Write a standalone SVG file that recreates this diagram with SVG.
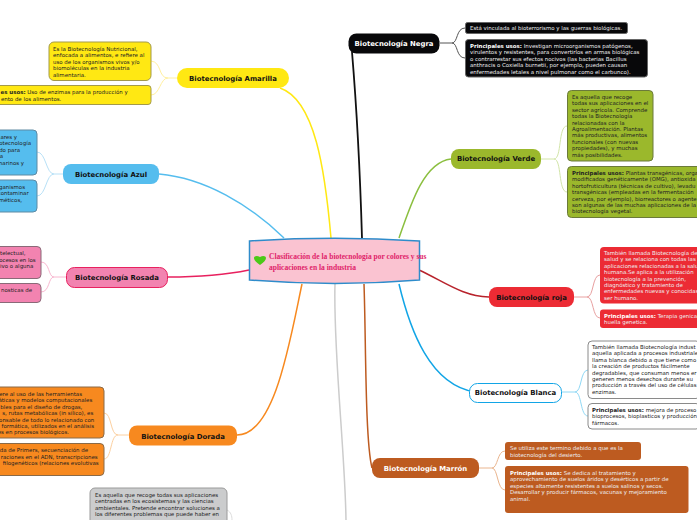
<svg xmlns="http://www.w3.org/2000/svg" width="697" height="520" viewBox="0 0 697 520">
<style>
text{font-family:"DejaVu Sans",Verdana,sans-serif}
.t{font-size:5.45px;fill:#222}
.e{text-anchor:end}
.l{fill:#eee}
.b{font-weight:bold}
.n{font-size:6.9px;font-weight:bold;text-anchor:middle;fill:#111}
.c{fill:none;stroke-width:1.5}
.f{fill:none;stroke-width:1}
.box{stroke-width:1}
.m{font-family:"Liberation Serif",serif;font-size:7.5px;font-weight:bold;fill:#e0246a}
</style>
<rect width="697" height="520" fill="#fff"/>
<g id="connectors">
<path class="c" style="stroke-width:1.8" stroke="#111" d="M362 238C360 170 356 100 352 52"/>
<path class="c" stroke="#ffe813" d="M331 238C325 170 315 100 280 88"/>
<path class="c" stroke="#55bdee" d="M284 238C250 205 205 178 159 174"/>
<path class="c" stroke="#e8215f" d="M249 270C220 276 195 277 168 277"/>
<path class="c" stroke="#f7891f" d="M302 284C290 340 275 435 237 435"/>
<path class="c" stroke="#ccc" d="M335 284C333 350 345 450 346 520"/>
<path class="c" stroke="#bd5b20" d="M364 284C366 340 365 440 372 468"/>
<path class="c" stroke="#12a5e6" d="M399 284C410 330 430 385 475 392"/>
<path class="c" stroke="#b8232c" d="M419 270C445 282 462 296 489 297"/>
<path class="c" stroke="#8bbf3f" d="M399 238C412 200 425 162 451 159"/>
<g class="f">
<path stroke="#fff0a0" d="M177 78H168C158 78 162 62 151 61M168 78C160 78 160 95 151 95"/>
<path stroke="#b8e1f7" d="M63 174H54C46 174 46 152 37 152M54 174C46 174 46 196 37 196"/>
<path stroke="#f8b8d0" d="M66 277H54C48 277 50 262 41 262M54 277C48 277 50 292 41 292"/>
<path stroke="#fcd0a0" d="M129 435H118C110 435 112 413 104 413M118 435C110 435 112 459 104 459"/>
<path stroke="#ddd" d="M227 510C231 512 232 516 232 520"/>
<path stroke="#555" d="M440 43H452C458 43 456 28 465 28M452 43C458 43 456 58 465 58"/>
<path stroke="#d2e5a8" d="M541 159H554C562 159 558 126 567 126M554 159C562 159 558 192 567 192"/>
<path stroke="#e8a0a0" d="M574 297H587C594 297 592 275 600 275M587 297C594 297 592 318 600 318"/>
<path stroke="#8fd8f5" d="M562 392H575C582 392 580 370 588 370M575 392C582 392 580 416 588 416"/>
<path stroke="#eab58e" d="M479 468H492C498 468 497 451 505 451M492 468C498 468 497 490 505 490"/>
</g>
</g>
<g id="amarilla">
<rect class="box" x="49" y="42" width="102" height="38.500" rx="5" fill="#ffe813" stroke="#a39a4a"/>
<rect class="box" x="-5" y="85.500" width="156" height="19" rx="3" fill="#ffe813" stroke="#a39a4a"/>
<rect x="177" y="68" width="112" height="20" rx="10" fill="#ffe813"/>
<text class="n" x="233" y="80.500">Biotecnología Amarilla</text>
<text class="t" x="53" y="51">Es la Biotecnología Nutricional,</text>
<text class="t" x="53" y="57.400">enfocada a alimentos, e refiere al</text>
<text class="t" x="53" y="63.800">uso de los organismos vivos y/o</text>
<text class="t" x="53" y="70.200">biomoléculas en la industria</text>
<text class="t" x="53" y="76.600">alimentaria.</text>
<text class="t e" x="127.700" y="94"><tspan class="b">es usos:</tspan> Uso de enzimas para la producción y</text>
<text class="t e" x="61.300" y="101">ento de los alimentos.</text>
</g>
<g id="azul">
<rect class="box" x="-5" y="130" width="42" height="45" rx="4" fill="#55bdee" stroke="#5f8aa3"/>
<rect class="box" x="-5" y="180" width="42" height="32" rx="4" fill="#55bdee" stroke="#5f8aa3"/>
<rect x="63" y="164" width="96" height="20" rx="8" fill="#55bdee"/>
<text class="n" x="111" y="176.500">Biotecnología Azul</text>
<text class="t e" x="17" y="139">ares y</text>
<text class="t e" x="31" y="145.400">otecnología</text>
<text class="t e" x="20" y="151.800">do para</text>
<text class="t e" x="3" y="158.200">a</text>
<text class="t e" x="24" y="164.600">marinos y</text>
<text class="t e" x="25" y="189">ganismos</text>
<text class="t e" x="28.700" y="195.400">contaminar</text>
<text class="t e" x="22" y="201.800">méticos,</text>
</g>
<g id="rosada">
<rect class="box" x="-5" y="246.500" width="46" height="32" rx="4" fill="#f283b0" stroke="#8a6a78"/>
<rect class="box" x="-5" y="283.500" width="46" height="19" rx="4" fill="#f283b0" stroke="#8a6a78"/>
<rect x="66.500" y="267.500" width="101" height="20" rx="8" fill="#f283b0" stroke="#e8215f"/>
<text class="n" x="117" y="280">Biotecnología Rosada</text>
<text class="t e" x="25.500" y="255.300">ntelectual,</text>
<text class="t e" x="35.700" y="262">ocesos en los</text>
<text class="t e" x="33.300" y="268.200">ivo o alguna</text>
<text class="t e" x="32" y="292">nosticas de</text>
</g>
<g id="dorada">
<rect class="box" x="-5" y="387" width="109" height="51" rx="4" fill="#f7891f" stroke="#8a6a48"/>
<rect class="box" x="-5" y="443.500" width="109" height="32" rx="4" fill="#f7891f" stroke="#8a6a48"/>
<rect x="129" y="425.500" width="108" height="20" rx="8" fill="#f7891f"/>
<text class="n" x="183" y="438.500">Biotecnología Dorada</text>
<text class="t e" x="82" y="396">ere al uso de las herramientas</text>
<text class="t e" x="92.300" y="402.400">máticas y modelos computacionales</text>
<text class="t e" x="82.300" y="408.800">bles para el diseño de drogas,</text>
<text class="t e" x="93.300" y="415.200">s, rutas metabólicas (in silico), es</text>
<text class="t e" x="94.300" y="421.600">onsable de todo lo relacionado con</text>
<text class="t e" x="94" y="428">formática, utilizados en el análisis</text>
<text class="t e" x="69" y="434.400">es en procesos biológicos.</text>
<text class="t e" x="88" y="452">da de Primers, secuenciación de</text>
<text class="t e" x="97.700" y="459">raciones en el ADN, transcripciones</text>
<text class="t e" x="98.700" y="465.400">filogenéticos (relaciones evolutivas</text>
</g>
<g id="gris">
<rect class="box" x="90" y="488" width="137" height="40" rx="5" fill="#cbcccd" stroke="#9a9a9a"/>
<text class="t" x="95" y="497">Es aquella que recoge todas sus aplicaciones</text>
<text class="t" x="95" y="503.400">centradas en los ecosistemas y las ciencias</text>
<text class="t" x="95" y="509.800">ambientales. Pretende encontrar soluciones a</text>
<text class="t" x="95" y="516.200">los diferentes problemas que puede haber en</text>
</g>
<g id="negra">
<rect x="465.500" y="22.500" width="162" height="11" rx="2" fill="#08080a" stroke="#666"/>
<rect x="465.500" y="39.500" width="182" height="37.500" rx="3" fill="#08080a" stroke="#666"/>
<rect x="348.500" y="33.500" width="91" height="20" rx="8" fill="#08080a"/>
<text class="n" x="394" y="46" style="fill:#fff">Biotecnología Negra</text>
<text class="t l" x="470" y="30">Está vinculada al bioterrorismo y las guerras biológicas.</text>
<text class="t l" x="470" y="48"><tspan class="b" style="fill:#fff">Principales usos:</tspan> Investigan microorganismos patógenos,</text>
<text class="t l" x="470" y="54.400">virulentos y resistentes, para convertirlos en armas biológicas</text>
<text class="t l" x="470" y="60.800">o contrarrestar sus efectos nocivos (las bacterias Bacillus</text>
<text class="t l" x="470" y="67.200">anthracis o Coxiella burnetii, por ejemplo, pueden causan</text>
<text class="t l" x="470" y="73.600">enfermedades letales a nivel pulmonar como el carbunco).</text>
</g>
<g id="verde">
<rect class="box" x="567.500" y="90.500" width="85.500" height="70.500" rx="4" fill="#9bb82c" stroke="#6b7a3a"/>
<rect class="box" x="567.500" y="166.500" width="135" height="51" rx="4" fill="#9bb82c" stroke="#6b7a3a"/>
<rect x="451" y="149" width="90" height="20" rx="8" fill="#9bb82c"/>
<text class="n" x="496" y="161">Biotecnología Verde</text>
<text class="t" x="572" y="99">Es aquella que recoge</text>
<text class="t" x="572" y="105.400">todas sus aplicaciones en el</text>
<text class="t" x="572" y="111.800">sector agrícola. Comprende</text>
<text class="t" x="572" y="118.200">todas la Biotecnología</text>
<text class="t" x="572" y="124.600">relacionadas con la</text>
<text class="t" x="572" y="131">Agroalimentación. Plantas</text>
<text class="t" x="572" y="137.400">más productivas, alimentos</text>
<text class="t" x="572" y="143.800">funcionales (con nuevas</text>
<text class="t" x="572" y="150.200">propiedades), y muchas</text>
<text class="t" x="572" y="156.600">más posibilidades.</text>
<text class="t" x="572" y="175"><tspan class="b">Principales usos:</tspan> Plantas transgénicas, orga</text>
<text class="t" x="572" y="181.400">modificados genéticamente (OMG), antioxida</text>
<text class="t" x="572" y="187.800">hortofruticultura (técnicas de cultivo), levadu</text>
<text class="t" x="572" y="194.200">transgénicas (empleadas en la fermentación</text>
<text class="t" x="572" y="200.600">cerveza, por ejemplo), biorreactores o agente</text>
<text class="t" x="572" y="207">son algunas de las muchas aplicaciones de la</text>
<text class="t" x="572" y="213.400">biotecnología vegetal.</text>
</g>
<g id="roja">
<rect x="600" y="247" width="102" height="56.500" rx="4" fill="#ec2b34"/>
<rect x="600" y="309.500" width="102" height="18.500" rx="3" fill="#ec2b34"/>
<rect x="489" y="287" width="85" height="20" rx="8" fill="#ec2b34"/>
<text class="n" x="531.500" y="299.500">Biotecnología roja</text>
<text class="t l" x="604" y="255">También llamada Biotecnología de</text>
<text class="t l" x="604" y="261.400">salud y se relaciona con todas las</text>
<text class="t l" x="604" y="267.800">aplicaciones relacionadas a la salu</text>
<text class="t l" x="604" y="274.200">humana.Se aplica a la utilización</text>
<text class="t l" x="604" y="280.600">biotecnología a la prevención,</text>
<text class="t l" x="604" y="287">diagnóstico y tratamiento de</text>
<text class="t l" x="604" y="293.400">enfermedades nuevas y conocidas</text>
<text class="t l" x="604" y="299.800">ser humano.</text>
<text class="t l" x="604" y="318"><tspan class="b" style="fill:#fff">Principales usos:</tspan> Terapia genica</text>
<text class="t l" x="604" y="324.400">huella genetica.</text>
</g>
<g id="blanca">
<rect class="box" x="588" y="341" width="112" height="57.500" rx="4" fill="#fff" stroke="#8a8a8a"/>
<rect class="box" x="588" y="403.500" width="112" height="25.500" rx="4" fill="#fff" stroke="#8a8a8a"/>
<rect x="469.500" y="383.500" width="92" height="19" rx="8" fill="#fff" stroke="#12a5e6"/>
<text class="n" x="515.500" y="395">Biotecnología Blanca</text>
<text class="t" x="592" y="349">También llamada Biotecnología indust</text>
<text class="t" x="592" y="355.400">aquella aplicada a procesos industriale</text>
<text class="t" x="592" y="361.800">llama blanca debido a que tiene como</text>
<text class="t" x="592" y="368.200">la creación de productos fácilmente</text>
<text class="t" x="592" y="374.600">degradables, que consuman menos er</text>
<text class="t" x="592" y="381">generen menos desechos durante su</text>
<text class="t" x="592" y="387.400">producción a través del uso de células</text>
<text class="t" x="592" y="393.800">enzimas.</text>
<text class="t" x="592" y="412"><tspan class="b">Principales usos:</tspan> mejora de proceso</text>
<text class="t" x="592" y="418.400">bioprocesos, bioplasticos y producción</text>
<text class="t" x="592" y="424.800">fármacos.</text>
</g>
<g id="marron">
<rect x="505" y="442" width="136" height="18" rx="3" fill="#bd5b20"/>
<rect x="505" y="466" width="183.500" height="47" rx="3" fill="#bd5b20"/>
<rect x="372" y="458" width="107" height="20" rx="8" fill="#bd5b20"/>
<text class="n" x="425.500" y="470.500" style="fill:#fff">Biotecnología Marrón</text>
<text class="t l" x="510" y="450">Se utiliza este termino debido a que es la</text>
<text class="t l" x="510" y="456.500">biotecnología del desierto.</text>
<text class="t l" x="510" y="474.500"><tspan class="b" style="fill:#fff">Principales usos:</tspan> Se dedica al tratamiento y</text>
<text class="t l" x="510" y="481">aprovechamiento de suelos áridos y desérticos a partir de</text>
<text class="t l" x="510" y="487.500">especies altamente resistentes a suelos salinos y secos.</text>
<text class="t l" x="510" y="494">Desarrollar y producir fármacos, vacunas y mejoramiento</text>
<text class="t l" x="510" y="500.500">animal.</text>
</g>
<g id="central">
<path d="M249.500 241Q335 235.500 419.500 241V280Q335 287 249.500 280Z" fill="#fac3d1" stroke="#2e8ccb" stroke-width="1.500"/>
<path d="M260 265C256 262 254 260 254 258C254 256 257 255 260 257C263 255 266 256 266 258C266 260 264 262 260 265Z" fill="#4cc917"/>
<text class="m" x="269" y="258.500">Clasificación de la biotecnología por colores y sus</text>
<text class="m" x="269" y="269.500">aplicaciones en la industria</text>
</g>
</svg>
